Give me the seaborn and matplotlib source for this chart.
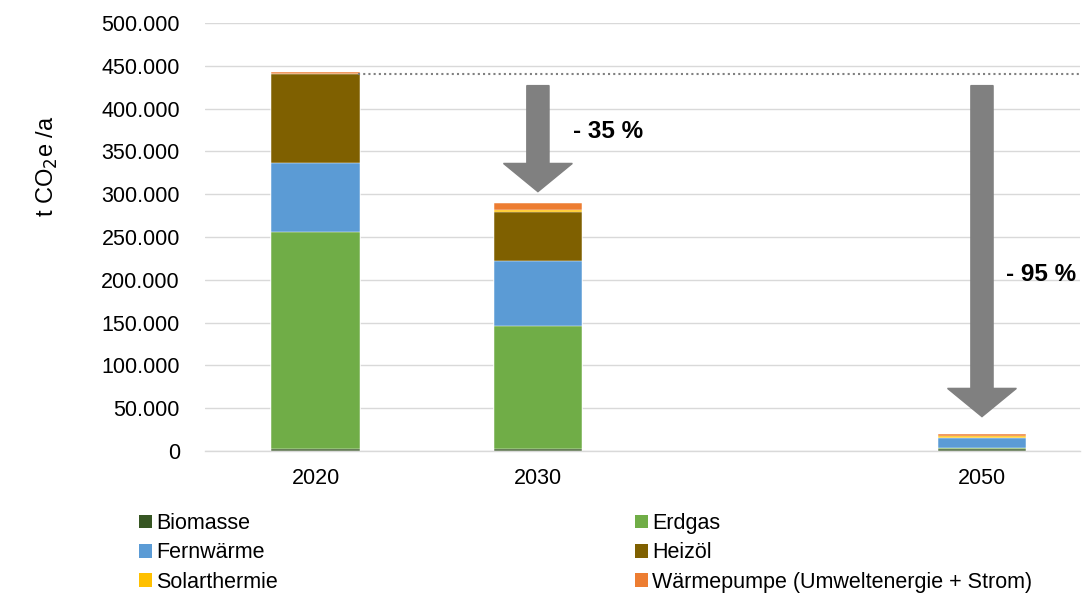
import numpy as np
import pandas as pd
import seaborn as sns
import matplotlib.pyplot as plt
from matplotlib.patches import Patch
from matplotlib.ticker import FuncFormatter

# Data (t CO2e / a)
years = [2020, 2030, 2050]
sources = ['Biomasse', 'Erdgas', 'Fernwärme', 'Heizöl', 'Solarthermie',
           'Wärmepumpe (Umweltenergie + Strom)']
biomasse = [2500, 2000, 2500]
erdgas = [253000, 144000, 500]
fernwaerme = [81500, 76000, 12000]
heizoel = [103000, 57000, 300]
solarthermie = [800, 2000, 2200]
waermepumpe = [1800, 9000, 2200]
colors = ['#375623', '#70AD47', '#5B9BD5', '#7F6000', '#FFC000', '#ED7D31']

reduction_labels = ['- 35 %', '- 95 %']
reference_level = 440000

sns.set_theme(style='white')
plt.rcParams['font.family'] = ['Liberation Sans', 'DejaVu Sans']
for k in ['text.color', 'axes.labelcolor', 'xtick.color', 'ytick.color']:
    plt.rcParams[k] = 'black'

values = [biomasse, erdgas, fernwaerme, heizoel, solarthermie, waermepumpe]
df = pd.DataFrame({'Jahr': years})
cum = np.zeros(len(years))
for name, vals in zip(sources, values):
    cum = cum + np.array(vals)
    df[name] = cum

fig = plt.figure(figsize=(10.84, 5.94), dpi=100)
ax = fig.add_axes([0.189, 0.241, 0.807, 0.72])

# stacked bars: draw cumulative totals from top layer down
for name, col in reversed(list(zip(sources, colors))):
    sns.barplot(data=df, x='Jahr', y=name, native_scale=True, width=0.4,
                color=col, saturation=1, edgecolor='white', linewidth=0.35, ax=ax)

ax.set_xlim(2015, 2054.4)
ax.set_ylim(0, 500000)
ax.set_yticks(np.arange(0, 500001, 50000))
ax.yaxis.set_major_formatter(FuncFormatter(lambda v, p: f'{v:,.0f}'.replace(',', '.')))
ax.set_xticks(years)
ax.set_xticklabels([str(y) for y in years])
ax.tick_params(axis='both', labelsize=15.5, length=0)
ax.tick_params(axis='y', pad=18)
ax.tick_params(axis='x', pad=12)
ax.grid(axis='y', color='#D9D9D9', linewidth=1)
ax.set_axisbelow(True)
for s in ['top', 'right', 'left']:
    ax.spines[s].set_visible(False)
ax.spines['bottom'].set_color('#D9D9D9')
ax.spines['bottom'].set_linewidth(1)
ax.set_xlabel('')
ax.set_ylabel('t CO$_2$e /a', fontsize=17)
ax.yaxis.set_label_coords(-0.166, 0.666)

# reference dotted line
ax.plot([2021.9, 2054.4], [reference_level, reference_level], linestyle=(0, (1, 1.5)),
        color='#808080', linewidth=1.5)

# reduction arrows
arrow_top = 427000
for x, y_end, lbl, lx, ly in [(2030, 303000, reduction_labels[0], 2031.6, 373000),
                              (2050, 40000, reduction_labels[1], 2051.1, 206000)]:
    ax.arrow(x, arrow_top, 0, y_end - arrow_top, width=1.0, head_width=3.1,
             head_length=33000, length_includes_head=True, color='#808080', zorder=5)
    ax.text(lx, ly, lbl, fontsize=17.5, fontweight='bold', ha='left', va='center')

handles = [Patch(facecolor=c, edgecolor='none') for c in colors]
order = [0, 2, 4, 1, 3, 5]
fig.legend([handles[i] for i in order], [sources[i] for i in order], ncol=2,
           loc='upper left', bbox_to_anchor=(0.128, 0.136), frameon=False,
           fontsize=15.5, handlelength=0.6, handleheight=0.6, handletextpad=0.2,
           columnspacing=16.6, labelspacing=0.38, borderaxespad=0, borderpad=0)

fig.savefig('out.png', dpi=100)
